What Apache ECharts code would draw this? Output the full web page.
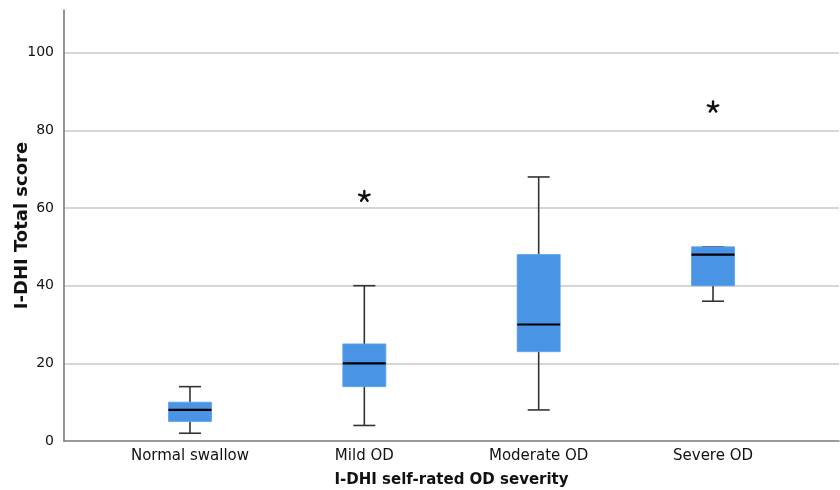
<!DOCTYPE html>
<html>
<head>
<meta charset="utf-8">
<script src="https://cdn.jsdelivr.net/npm/echarts@6/dist/echarts.min.js"></script>
<style>html,body{margin:0;padding:0;background:#fff}#c{width:840px;height:490px}</style>
</head>
<body>
<div id="c"></div>
<script>
// Data
var categories = ['Normal swallow', 'Mild OD', 'Moderate OD', 'Severe OD'];
var whiskerLow = [2, 4, 8, 36];
var q1 = [5, 14, 23, 40];
var median = [8, 20, 30, 48];
var q3 = [10, 25, 48, 50];
var whiskerHigh = [14, 40, 68, 50];
var outlierCategory = [1, 3];
var outlierValue = [63, 86];
var yTicks = [0, 20, 40, 60, 80, 100];

var boxData = categories.map(function (c, i) {
  return [i, whiskerLow[i], q1[i], median[i], q3[i], whiskerHigh[i]];
});
var outData = outlierCategory.map(function (c, i) { return [c, outlierValue[i]]; });

var FONT = 'DejaVu Sans';
var chart = echarts.init(document.getElementById('c'), null, {renderer: 'canvas'});

function renderBox(params, api) {
  var i = api.value(0);
  var lo = api.coord([i, api.value(1)]);
  var b1 = api.coord([i, api.value(2)]);
  var md = api.coord([i, api.value(3)]);
  var b3 = api.coord([i, api.value(4)]);
  var hi = api.coord([i, api.value(5)]);
  var x = lo[0];
  var bw = 43, cw = 22;
  var wStyle = {stroke: '#333333', lineWidth: 1.6};
  var children = [
    {type: 'line', shape: {x1: x, y1: hi[1], x2: x, y2: b3[1]}, style: wStyle},
    {type: 'line', shape: {x1: x, y1: b1[1], x2: x, y2: lo[1]}, style: wStyle},
    {type: 'line', shape: {x1: x - cw / 2, y1: hi[1], x2: x + cw / 2, y2: hi[1]}, style: wStyle},
    {type: 'line', shape: {x1: x - cw / 2, y1: lo[1], x2: x + cw / 2, y2: lo[1]}, style: wStyle},
    {type: 'rect', shape: {x: x - bw / 2, y: b3[1], width: bw, height: b1[1] - b3[1]},
      style: {fill: '#4a94e6', stroke: '#5aa0ea', lineWidth: 0.8}},
    {type: 'line', shape: {x1: x - bw / 2, y1: md[1], x2: x + bw / 2, y2: md[1]},
      style: {stroke: '#000000', lineWidth: 2.2}}
  ];
  return {type: 'group', children: children};
}

function renderStar(params, api) {
  var p = api.coord([api.value(0), api.value(1)]);
  var r = 5.5;
  var children = [];
  for (var k = 0; k < 5; k++) {
    var a = -Math.PI / 2 + k * 2 * Math.PI / 5;
    children.push({type: 'line',
      shape: {x1: p[0], y1: p[1], x2: p[0] + r * Math.cos(a), y2: p[1] + r * Math.sin(a)},
      style: {stroke: '#111111', lineWidth: 2.4, lineCap: 'round'}});
  }
  return {type: 'group', children: children};
}

var option = {
  animation: false,
  backgroundColor: '#ffffff',
  grid: [
    {left: 64, right: 1, top: 10, bottom: 49, containLabel: false, outerBoundsMode: 'none'},
    {left: 102.8, right: 39.8, top: 10, bottom: 49, containLabel: false, outerBoundsMode: 'none'}
  ],
  xAxis: [
    {gridIndex: 0, type: 'value', min: 0, max: 1,
      name: 'I-DHI self-rated OD severity', nameLocation: 'middle', nameGap: 32, nameMoveOverlap: false,
      nameTextStyle: {fontFamily: FONT, fontSize: 15, fontWeight: 'bold', color: '#111'},
      axisLine: {show: true, lineStyle: {color: '#7a7a7a', width: 1.6}},
      axisTick: {show: false}, axisLabel: {show: false}, splitLine: {show: false}},
    {gridIndex: 1, type: 'category', data: categories, boundaryGap: true,
      axisLine: {show: false}, axisTick: {show: false},
      axisLabel: {fontFamily: FONT, fontSize: 15, color: '#111', margin: 8}}
  ],
  yAxis: [
    {gridIndex: 0, type: 'value', min: 0, max: 111, interval: 20,
      name: 'I-DHI Total score', nameLocation: 'middle', nameGap: 33, nameMoveOverlap: false,
      nameTextStyle: {fontFamily: FONT, fontSize: 18, fontWeight: 'bold', color: '#111'},
      axisLine: {show: true, lineStyle: {color: '#7a7a7a', width: 1.6}},
      axisTick: {show: false},
      axisLabel: {fontFamily: FONT, fontSize: 14, color: '#111', margin: 10, showMaxLabel: false,
        formatter: function (v) { return yTicks.indexOf(v) >= 0 ? String(v) : ''; }},
      splitLine: {show: true, showMinLine: false, showMaxLine: false,
        lineStyle: {color: '#c8c8c8', width: 1.5}}},
    {gridIndex: 1, type: 'value', min: 0, max: 111, show: false, splitLine: {show: false}}
  ],
  series: [
    {type: 'custom', xAxisIndex: 1, yAxisIndex: 1, data: boxData, renderItem: renderBox,
      encode: {x: 0, y: [1, 2, 3, 4, 5]}, z: 3},
    {type: 'custom', xAxisIndex: 1, yAxisIndex: 1, data: outData, renderItem: renderStar,
      encode: {x: 0, y: 1}, z: 4}
  ]
};
chart.setOption(option);
</script>
</body>
</html>
